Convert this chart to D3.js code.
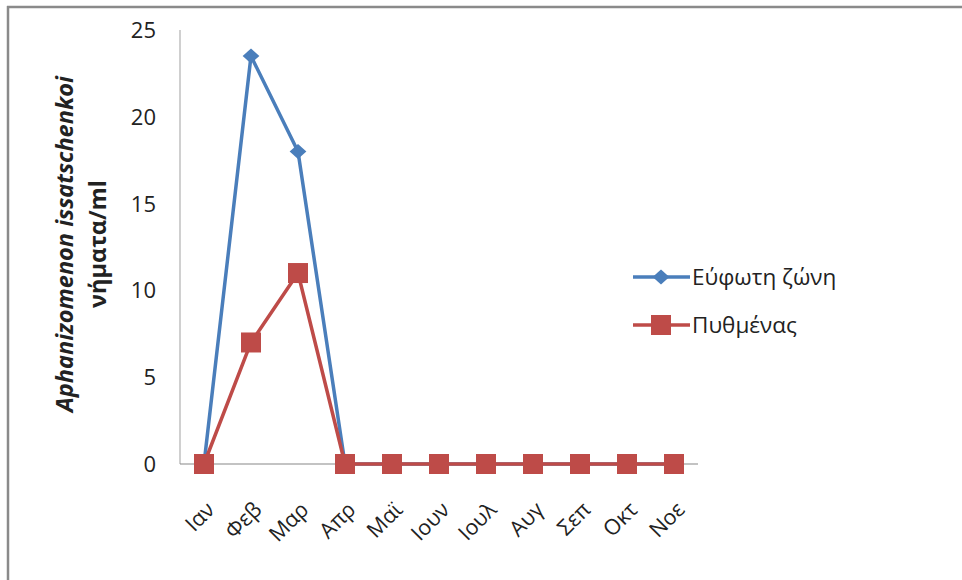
<!DOCTYPE html>
<html><head><meta charset="utf-8">
<script src="https://cdn.jsdelivr.net/npm/d3@7"></script>
<style>body{margin:0;background:#fff}svg{display:block}text{font-family:"Open Sans","Noto Sans",sans-serif;fill:#222}</style>
</head><body>
<svg id="c" width="962" height="580"></svg>
<script>
const categories = ["Ιαν","Φεβ","Μαρ","Απρ","Μαϊ","Ιουν","Ιουλ","Αυγ","Σεπ","Οκτ","Νοε"];
const euphotic = [0,23.5,18,0,0,0,0,0,0,0,0];
const bottom = [0,7,11,0,0,0,0,0,0,0,0];
const yTicks = [0,5,10,15,20,25];
const seriesNames = ["Εύφωτη ζώνη","Πυθμένας"];
const colors = ["#4a7ebb","#be4b48"];

const svg = d3.select("#c");
// frame
svg.append("line").attr("x1",7).attr("x2",962).attr("y1",7).attr("y2",7).attr("stroke","#8a8a8a").attr("stroke-width",2.5);
svg.append("line").attr("x1",8).attr("x2",8).attr("y1",6).attr("y2",580).attr("stroke","#8a8a8a").attr("stroke-width",2.5);

const x = d3.scalePoint().domain(categories).range([204,674]);
const y = d3.scaleLinear().domain([0,25]).range([464,30]);

// axes
svg.append("line").attr("x1",180).attr("x2",180).attr("y1",y(25)).attr("y2",y(0)).attr("stroke","#b0b0b0").attr("stroke-width",1.2);
svg.append("line").attr("x1",180).attr("x2",698).attr("y1",y(0)).attr("y2",y(0)).attr("stroke","#888").attr("stroke-width",1.2);

svg.selectAll(".yt").data(yTicks).enter().append("text")
  .attr("x",156).attr("y",d=>y(d)).attr("dy","0.36em").attr("text-anchor","end")
  .attr("font-size",22).text(d=>d);

svg.selectAll(".xt").data(categories).enter().append("text")
  .attr("transform",d=>`translate(${x(d)+12},${511}) rotate(-45)`)
  .attr("text-anchor","end").attr("font-size",21.5).text(d=>d);

// y title
const yt = svg.append("text").attr("transform","translate(73,244) rotate(-90)").attr("text-anchor","middle").attr("font-size",23.5).attr("font-weight","bold");
yt.append("tspan").attr("x",0).attr("dy",0).attr("font-style","italic").text("Aphanizomenon issatschenkoi");
yt.append("tspan").attr("x",0).attr("dy",33).text("νήματα/ml");

const line = d3.line().x((d,i)=>x(categories[i])).y(d=>y(d));
const data = [euphotic,bottom];
const diamond = d3.symbol().type(d3.symbolSquare).size(140);

data.forEach((s,k)=>{
  svg.append("path").datum(s).attr("d",line).attr("fill","none").attr("stroke",colors[k]).attr("stroke-width",3.5).attr("stroke-linejoin","round");
  if(k===0){
    svg.selectAll(".m0").data(s).enter().append("path").attr("d",diamond)
      .attr("transform",(d,i)=>`translate(${x(categories[i])},${y(d)}) scale(1,0.9) rotate(45)`).attr("fill",colors[0]);
  } else {
    svg.selectAll(".m1").data(s).enter().append("rect")
      .attr("x",(d,i)=>x(categories[i])-10).attr("y",d=>y(d)-10).attr("width",20).attr("height",20).attr("fill",colors[1]);
  }
});

// legend
const ly = [277,325];
seriesNames.forEach((n,k)=>{
  svg.append("line").attr("x1",633).attr("x2",690).attr("y1",ly[k]).attr("y2",ly[k]).attr("stroke",colors[k]).attr("stroke-width",3.5);
  if(k===0) svg.append("path").attr("d",diamond).attr("transform",`translate(661,${ly[k]}) scale(1,0.9) rotate(45)`).attr("fill",colors[0]);
  else svg.append("rect").attr("x",651).attr("y",ly[k]-10).attr("width",20).attr("height",20).attr("fill",colors[1]);
  svg.append("text").attr("x",692).attr("y",ly[k]).attr("dy","0.36em").attr("font-size",22.5).text(n);
});
</script>
</body></html>
